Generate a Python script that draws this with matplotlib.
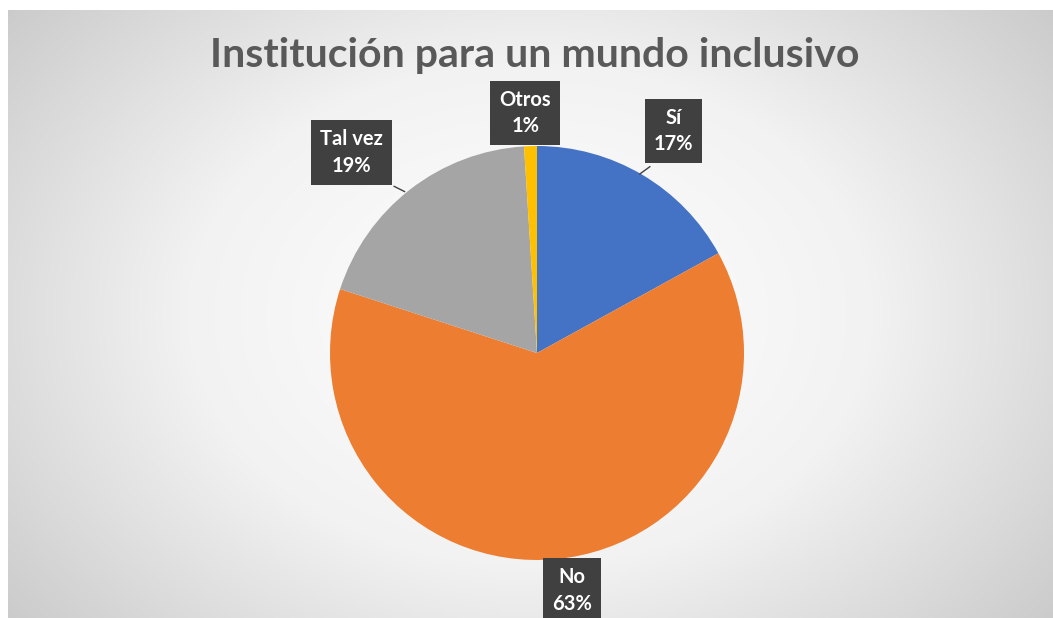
import numpy as np
import matplotlib.pyplot as plt
from matplotlib.colors import LinearSegmentedColormap

# Datos del gráfico
categorias = ['Sí', 'No', 'Tal vez', 'Otros']
porcentajes = [17, 63, 19, 1]
colores = ['#4472C4', '#ED7D31', '#A5A5A5', '#FFC000']
titulo = 'Institución para un mundo inclusivo'

plt.rcParams['font.family'] = ['Lato', 'DejaVu Sans']

W, H = 1053, 618
cx, cy, R = 537, 353, 207  # centro y radio de la tarta en píxeles

fig = plt.figure(figsize=(W / 100, H / 100), dpi=100)
fig.patch.set_facecolor('white')

# Fondo con degradado radial
bg = fig.add_axes([8 / W, 0, 1 - 8 / W, 1 - 10 / H])
yy, xx = np.mgrid[-1:1:300j, -1:1:500j]
rr = np.sqrt((xx * 0.95) ** 2 + (yy * 0.75) ** 2)
cmap = LinearSegmentedColormap.from_list('fondo', ['#ffffff', '#f2f2f2', '#c9c9c9'])
bg.imshow(rr, cmap=cmap, vmin=0, vmax=1.25, aspect='auto', extent=[0, 1, 0, 1])
bg.axis('off')

# Ejes de la tarta: 1 unidad = radio
ax = fig.add_axes([0, 0, 1, 1])
ax.patch.set_alpha(0)

wedges, _ = ax.pie(porcentajes, colors=colores, startangle=90, counterclock=False,
                   radius=1, center=(0, 0), wedgeprops=dict(linewidth=0))
ax.set_aspect('auto')
ax.set_xlim(-cx / R, (W - cx) / R)
ax.set_ylim(-(H - cy) / R, cy / R)
ax.axis('off')

# Posición de etiquetas (ángulo medio, distancia al centro)
dist_etiqueta = {'Sí': 1.26, 'No': 1.16, 'Tal vez': 1.32, 'Otros': 1.16}
ajuste_ang = {'Sí': -1, 'No': 3, 'Tal vez': 5, 'Otros': 1}

for w, cat, p in zip(wedges, categorias, porcentajes):
    ang = (w.theta1 + w.theta2) / 2 + ajuste_ang[cat]
    d = dist_etiqueta[cat]
    x = d * np.cos(np.radians(ang))
    y = d * np.sin(np.radians(ang))
    ax.text(x, y, f'{cat}\n{p}%', ha='center', va='center', color='white',
            fontsize=14.5, fontweight='bold', linespacing=1.4,
            bbox=dict(boxstyle='square,pad=0.45', fc='#404040', ec='none'))

# Líneas guía
ax.plot([0.545, 0.497], [0.90, 0.865], color='#404040', lw=1)
ax.plot([-0.69, -0.64], [0.805, 0.78], color='#404040', lw=1)

fig.text(535 / W, 1 - 56 / H, titulo, ha='center', va='center',
         fontsize=29.5, fontweight='bold', color='#595959')

fig.savefig('out.png', dpi=100)
